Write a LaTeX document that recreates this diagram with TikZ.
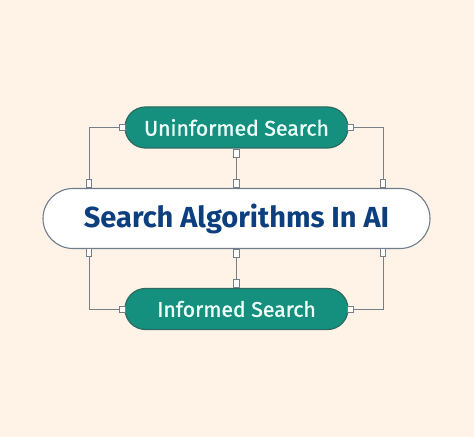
\documentclass[tikz,border=0pt]{standalone}
\usepackage{fontspec}
\setmainfont{Fira Sans}
\newfontfamily\subfont[FakeBold=1.2]{Fira Sans}
\definecolor{bg}{HTML}{FEF3E6}
\definecolor{tealfill}{HTML}{15907F}
\definecolor{tealedge}{HTML}{2C6A62}
\definecolor{mainedge}{HTML}{6E7C8C}
\definecolor{maintext}{HTML}{0D3F7E}
\definecolor{subtext}{HTML}{EEFFF9}
\definecolor{wire}{HTML}{767E88}
\begin{document}
\begin{tikzpicture}[x=1pt,y=1pt,
  subbox/.style={rounded rectangle, draw=tealedge, line width=1.2pt, fill=tealfill,
    minimum width=223pt, minimum height=41pt, inner sep=0pt,
    text=subtext, font=\subfont\fontsize{21.2}{25}\selectfont},
  mainbox/.style={rounded rectangle, draw=mainedge, line width=1.1pt, fill=white,
    minimum width=387pt, minimum height=60pt, inner sep=0pt,
    text=maintext, font=\fontsize{29}{34}\selectfont\bfseries},
  porth/.style={draw=wire, fill=white, line width=0.8pt, minimum width=6pt, minimum height=6pt, inner sep=0pt},
  portv/.style={draw=wire, fill=white, line width=0.8pt, minimum width=5.5pt, minimum height=8pt, inner sep=0pt},
  wireline/.style={draw=wire, line width=1pt}]
\usetikzlibrary{shapes.misc}
\fill[bg] (0,0) rectangle (474,437);
\useasboundingbox (0,0) rectangle (474,437);

\node[mainbox] (main) at (236.5,218.5) {Search Algorithms In AI};
\node[subbox] (unin) at (236.5,309.5) {Uninformed Search};
\node[subbox] (info) at (236.5,128) {Informed Search};

% ports
\node[porth, anchor=center] (uw) at ([xshift=-2pt]unin.west) {};
\node[porth, anchor=center] (ue) at ([xshift=2pt]unin.east) {};
\node[portv, anchor=north] (us) at (unin.south) {};
\node[porth, anchor=center] (iw) at ([xshift=-2pt]info.west) {};
\node[porth, anchor=center] (ie) at ([xshift=2pt]info.east) {};
\node[portv, anchor=south] (in) at (info.north) {};
\node[portv, anchor=south] (mnl) at (89,249) {};
\node[portv, anchor=south] (mnc) at (main.north) {};
\node[portv, anchor=south] (mnr) at (383,249) {};
\node[portv, anchor=north] (msl) at (89,188.5) {};
\node[portv, anchor=north] (msc) at (main.south) {};
\node[portv, anchor=north] (msr) at (383,188.5) {};

\draw[wireline] (uw.west) -| (mnl.north);
\draw[wireline] (ue.east) -| (mnr.north);
\draw[wireline] (us.south) -- (mnc.north);
\draw[wireline] (iw.west) -| (msl.south);
\draw[wireline] (ie.east) -| (msr.south);
\draw[wireline] (in.north) -- (msc.south);
\end{tikzpicture}
\end{document}
